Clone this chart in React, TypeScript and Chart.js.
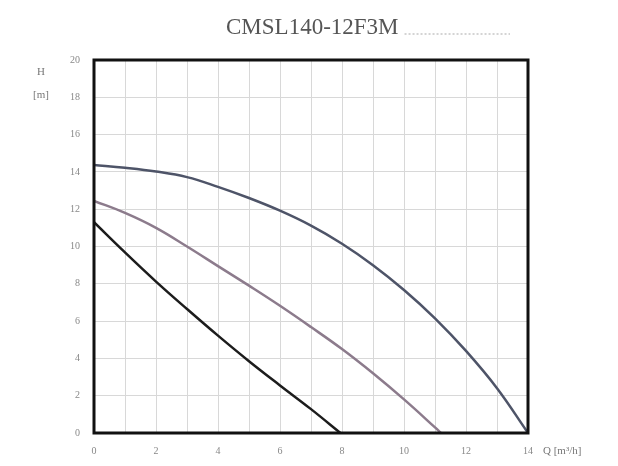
import React, { useEffect, useRef } from "react";
import { Chart, registerables } from "chart.js";

Chart.register(...registerables);

const TITLE = "CMSL140-12F3M";
const Y_TITLE_1 = "H";
const Y_TITLE_2 = "[m]";
const X_TITLE = "Q [m³/h]";

// Curve 1 (top)
const q1 = [0, 1, 2, 3, 4, 5, 6, 7, 8, 9, 10, 11, 12, 13, 14];
const h1 = [14.37, 14.22, 14.02, 13.72, 13.2, 12.6, 11.92, 11.12, 10.15, 9.0, 7.67, 6.15, 4.4, 2.4, 0];
// Curve 2 (middle)
const q2 = [0, 1, 2, 3, 4, 5, 6, 7, 8, 9, 10, 11, 11.19];
const h2 = [12.45, 11.8, 11.0, 10.0, 8.95, 7.9, 6.82, 5.68, 4.5, 3.2, 1.8, 0.3, 0];
// Curve 3 (bottom)
const q3 = [0, 1, 2, 3, 4, 5, 6, 7, 7.95];
const h3 = [11.3, 9.68, 8.12, 6.65, 5.22, 3.85, 2.55, 1.28, 0];

const X_MIN = 0;
const X_MAX = 14;
const Y_MIN = 0;
const Y_MAX = 20;

const toPts = (q: number[], h: number[]) => q.map((x, i) => ({ x, y: h[i] }));

const SERIF = '"Liberation Serif", "DejaVu Serif", serif';

export default function App() {
  const ref = useRef<HTMLCanvasElement | null>(null);

  useEffect(() => {
    document.body.style.margin = "0";
    const canvas = ref.current;
    if (!canvas) return;

    const decor = {
      id: "decor",
      afterDraw(chart: any) {
        const ctx = chart.ctx;
        const a = chart.chartArea;
        ctx.save();
        // frame
        ctx.strokeStyle = "#111";
        ctx.lineWidth = 3;
        ctx.strokeRect(a.left, a.top, a.right - a.left, a.bottom - a.top);
        // title
        ctx.fillStyle = "#555";
        ctx.font = `23px ${SERIF}`;
        ctx.textAlign = "left";
        ctx.textBaseline = "alphabetic";
        const tx = 226;
        const ty = 34;
        ctx.fillText(TITLE, tx, ty);
        const w = ctx.measureText(TITLE).width;
        ctx.strokeStyle = "#aaa";
        ctx.lineWidth = 1;
        ctx.setLineDash([2, 2]);
        ctx.beginPath();
        ctx.moveTo(tx + w + 6, ty);
        ctx.lineTo(510, ty);
        ctx.stroke();
        ctx.setLineDash([]);
        // axis titles
        ctx.fillStyle = "#777";
        ctx.font = `11px ${SERIF}`;
        ctx.textAlign = "center";
        ctx.textBaseline = "middle";
        ctx.fillText(Y_TITLE_1, 41, 72);
        ctx.fillText(Y_TITLE_2, 41, 95);
        ctx.textAlign = "left";
        ctx.fillText(X_TITLE, 543, 451);
        ctx.restore();
      },
    };

    const common = {
      fill: false,
      pointRadius: 0,
      borderWidth: 2.5,
      tension: 0.4,
    };

    const chart = new Chart(canvas, {
      type: "line",
      data: {
        datasets: [
          { ...common, data: toPts(q1, h1), borderColor: "#4e5468" },
          { ...common, data: toPts(q2, h2), borderColor: "#8c7b8c" },
          { ...common, data: toPts(q3, h3), borderColor: "#1c1c1c" },
        ],
      },
      options: {
        responsive: false,
        animation: false,
        layout: { padding: { left: 0, right: 90, top: 60, bottom: 0 } },
        plugins: {
          legend: { display: false },
          title: { display: false },
          tooltip: { enabled: false },
        },
        scales: {
          x: {
            type: "linear",
            min: X_MIN,
            max: X_MAX,
            afterFit: (s: any) => {
              s.height = 33;
            },
            grid: { color: "#d8d8d8", lineWidth: 1, drawTicks: false },
            border: { display: false },
            ticks: {
              stepSize: 1,
              autoSkip: false,
              maxRotation: 0,
              padding: 12,
              color: "#888",
              font: { family: SERIF, size: 10 },
              callback: (v: any) => (Number(v) % 2 === 0 ? String(v) : ""),
            },
          },
          y: {
            type: "linear",
            min: Y_MIN,
            max: Y_MAX,
            afterFit: (s: any) => {
              s.width = 94;
            },
            grid: { color: "#d8d8d8", lineWidth: 1, drawTicks: false },
            border: { display: false },
            ticks: {
              stepSize: 2,
              padding: 14,
              color: "#888",
              font: { family: SERIF, size: 10 },
            },
          },
        },
      },
      plugins: [decor],
    });

    return () => chart.destroy();
  }, []);

  return <canvas ref={ref} width={618} height={466} style={{ display: "block" }} />;
}
